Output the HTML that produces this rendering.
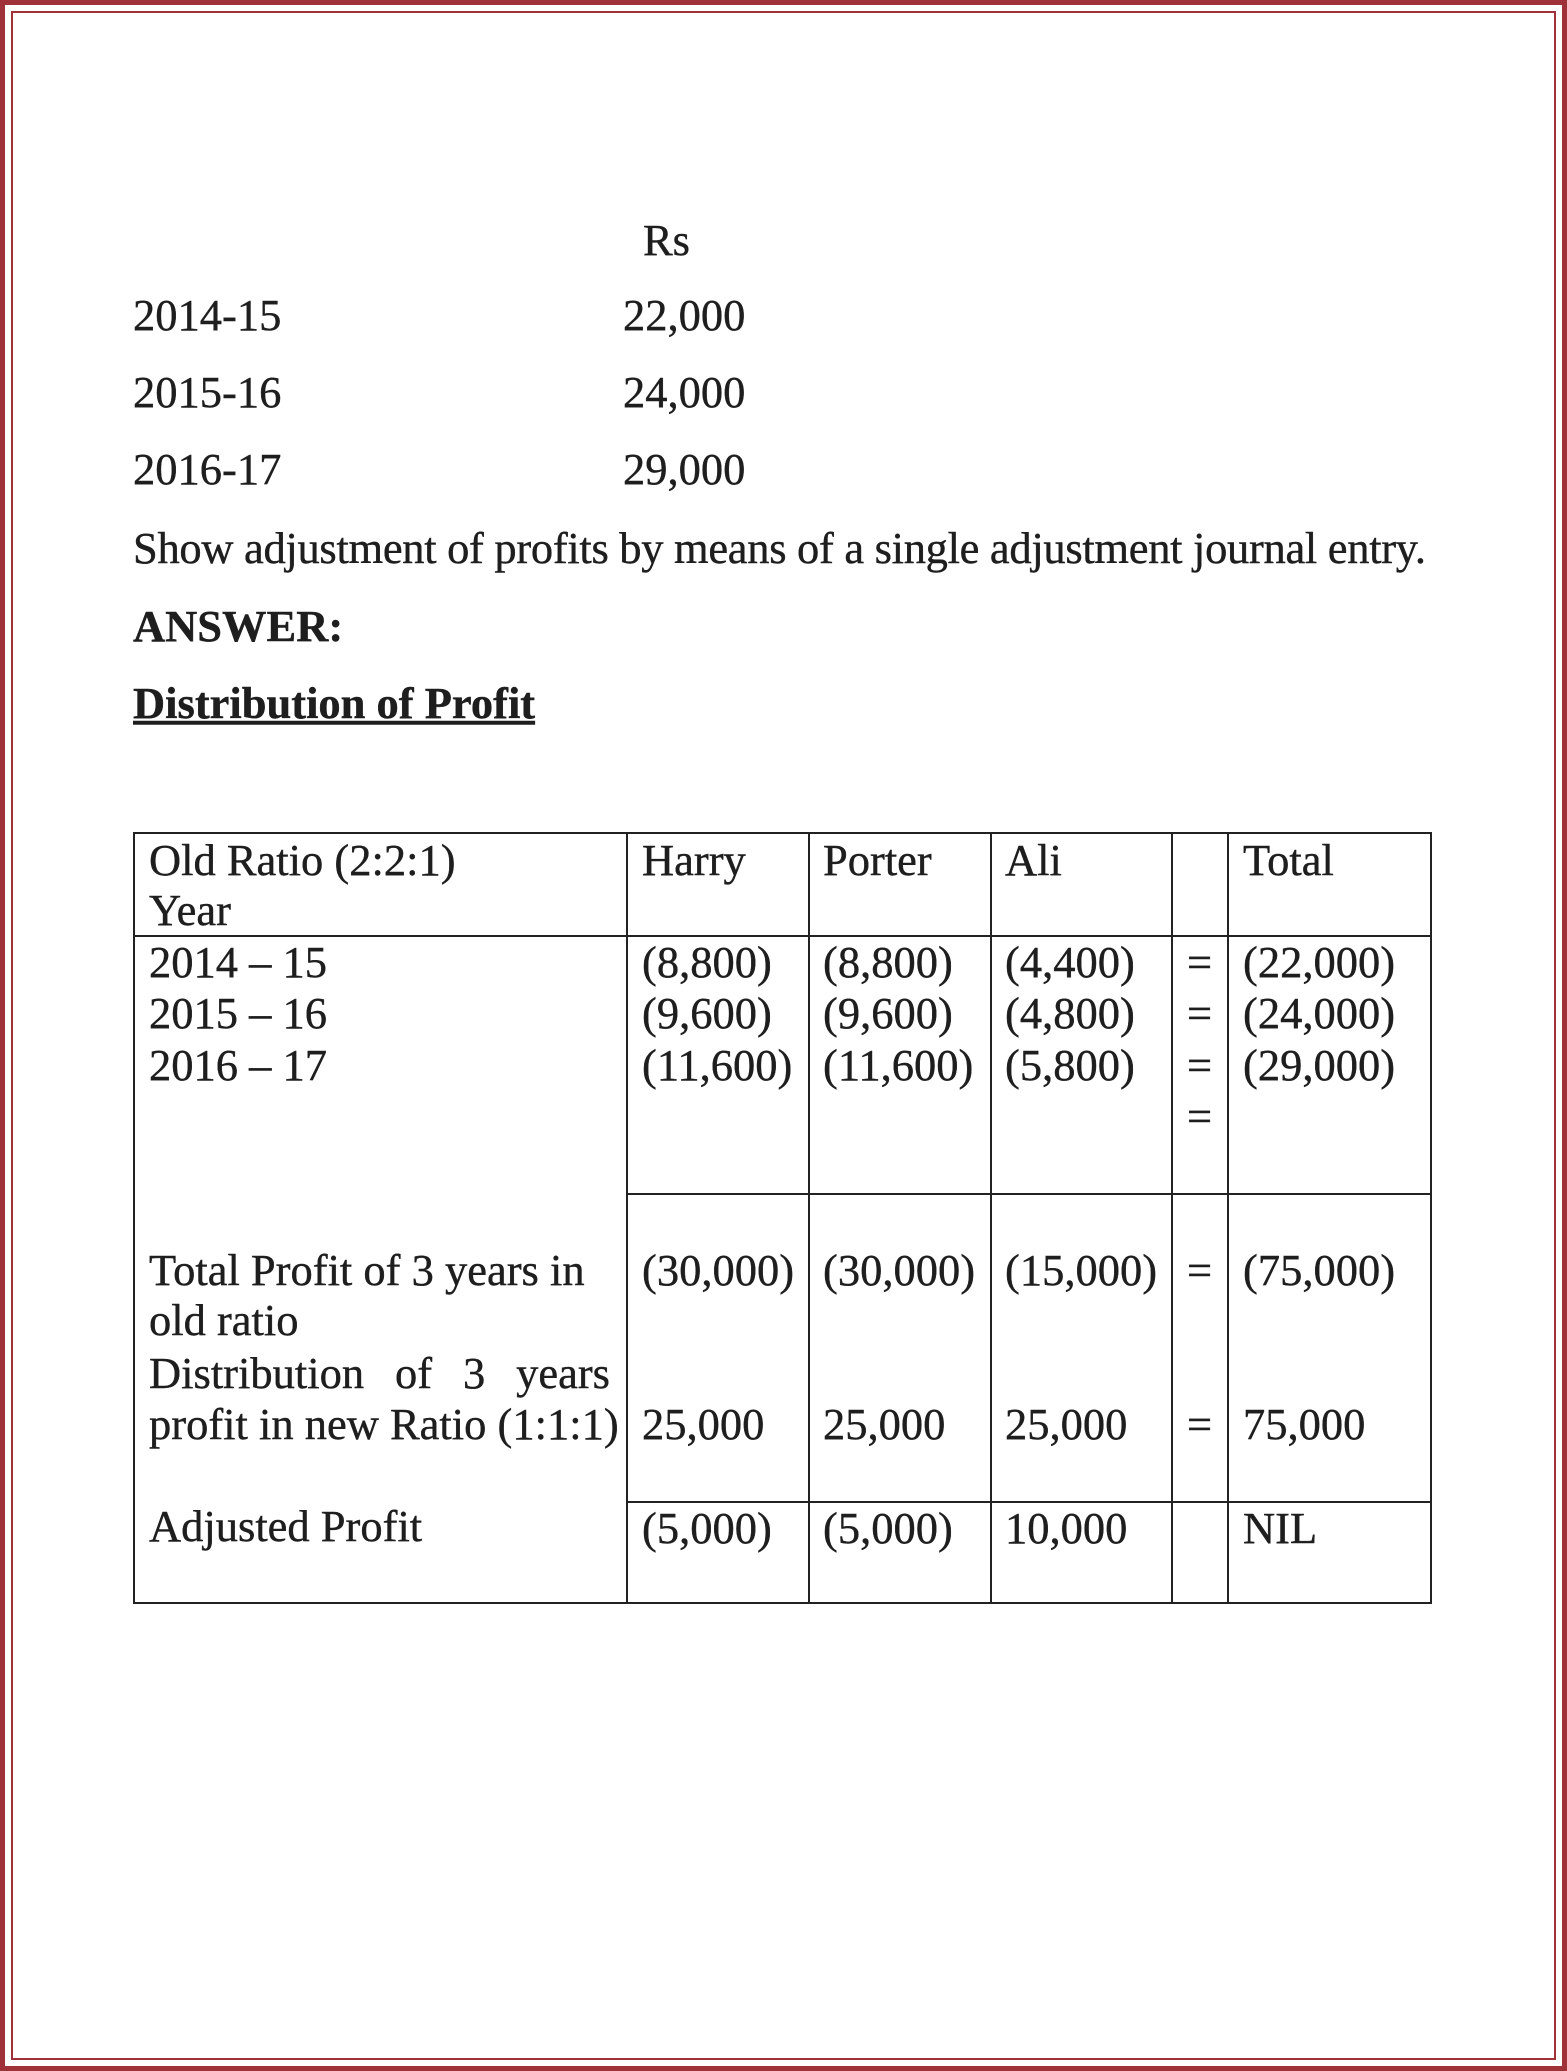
<!DOCTYPE html>
<html><head><meta charset="utf-8"><style>
html,body{margin:0;padding:0}
body{width:1567px;height:2071px;position:relative;background:#fff;font-family:"Liberation Serif",serif;color:#1e1e1e;font-size:44.5px;overflow:hidden;-webkit-text-stroke:0.4px #1e1e1e}
.f1{position:absolute;left:0;top:0;width:1557px;height:2061px;border:5px solid #9e3238}
.f2{position:absolute;left:11px;top:11px;width:1541px;height:2045px;border:2px solid #9e3238}
.t{position:absolute;white-space:nowrap;line-height:1;transform:translateY(-50%)}
.l{position:absolute;background:#222}
</style></head><body>
<div class="f1"></div><div class="f2"></div>
<div class="t" style="left:643px;top:240px">Rs</div>
<div class="t" style="left:133px;top:315px">2014-15</div><div class="t" style="left:623px;top:315px">22,000</div>
<div class="t" style="left:133px;top:392px">2015-16</div><div class="t" style="left:623px;top:392px">24,000</div>
<div class="t" style="left:133px;top:469px">2016-17</div><div class="t" style="left:623px;top:469px">29,000</div>
<div class="t" style="left:133px;top:548px;letter-spacing:-0.3px">Show adjustment of profits by means of a single adjustment journal entry.</div>
<div class="t" style="left:133px;top:626px;font-weight:bold">ANSWER:</div>
<div class="t" style="left:133px;top:703px;font-weight:bold;text-decoration:underline">Distribution of Profit</div>

<div class="l" style="left:133px;top:832px;width:1299px;height:2px"></div>
<div class="l" style="left:133px;top:1602px;width:1299px;height:2px"></div>
<div class="l" style="left:133px;top:832px;width:2px;height:772px"></div>
<div class="l" style="left:1430px;top:832px;width:2px;height:772px"></div>
<div class="l" style="left:133px;top:935px;width:1299px;height:2px"></div>
<div class="l" style="left:626px;top:1193px;width:806px;height:2px"></div>
<div class="l" style="left:626px;top:1501px;width:806px;height:2px"></div>
<div class="l" style="left:626px;top:832px;width:2px;height:772px"></div>
<div class="l" style="left:808px;top:832px;width:2px;height:772px"></div>
<div class="l" style="left:990px;top:832px;width:2px;height:772px"></div>
<div class="l" style="left:1171px;top:832px;width:2px;height:772px"></div>
<div class="l" style="left:1227px;top:832px;width:2px;height:772px"></div>

<div class="t" style="left:149px;top:860px">Old Ratio (2:2:1)</div>
<div class="t" style="left:149px;top:910px">Year</div>
<div class="t" style="left:642px;top:860px">Harry</div>
<div class="t" style="left:823px;top:860px">Porter</div>
<div class="t" style="left:1005px;top:860px">Ali</div>
<div class="t" style="left:1243px;top:860px">Total</div>

<div class="t" style="left:149px;top:962px">2014 – 15</div>
<div class="t" style="left:149px;top:1013px">2015 – 16</div>
<div class="t" style="left:149px;top:1065px">2016 – 17</div>
<div class="t" style="left:642px;top:962px">(8,800)</div><div class="t" style="left:823px;top:962px">(8,800)</div><div class="t" style="left:1005px;top:962px">(4,400)</div><div class="t" style="left:1187px;top:962px">=</div><div class="t" style="left:1243px;top:962px">(22,000)</div>
<div class="t" style="left:642px;top:1013px">(9,600)</div><div class="t" style="left:823px;top:1013px">(9,600)</div><div class="t" style="left:1005px;top:1013px">(4,800)</div><div class="t" style="left:1187px;top:1013px">=</div><div class="t" style="left:1243px;top:1013px">(24,000)</div>
<div class="t" style="left:642px;top:1065px">(11,600)</div><div class="t" style="left:823px;top:1065px">(11,600)</div><div class="t" style="left:1005px;top:1065px">(5,800)</div><div class="t" style="left:1187px;top:1065px">=</div><div class="t" style="left:1243px;top:1065px">(29,000)</div>
<div class="t" style="left:1187px;top:1116px">=</div>

<div class="t" style="left:149px;top:1270px">Total Profit of 3 years in</div>
<div class="t" style="left:149px;top:1320px">old ratio</div>
<div class="t" style="left:149px;top:1373px;width:461px;white-space:normal;text-align:justify;text-align-last:justify">Distribution of 3 years</div>
<div class="t" style="left:149px;top:1424px">profit in new Ratio (1:1:1)</div>
<div class="t" style="left:642px;top:1270px">(30,000)</div><div class="t" style="left:823px;top:1270px">(30,000)</div><div class="t" style="left:1005px;top:1270px">(15,000)</div><div class="t" style="left:1187px;top:1270px">=</div><div class="t" style="left:1243px;top:1270px">(75,000)</div>
<div class="t" style="left:642px;top:1424px">25,000</div><div class="t" style="left:823px;top:1424px">25,000</div><div class="t" style="left:1005px;top:1424px">25,000</div><div class="t" style="left:1187px;top:1424px">=</div><div class="t" style="left:1243px;top:1424px">75,000</div>

<div class="t" style="left:149px;top:1526px">Adjusted Profit</div>
<div class="t" style="left:642px;top:1528px">(5,000)</div><div class="t" style="left:823px;top:1528px">(5,000)</div><div class="t" style="left:1005px;top:1528px">10,000</div><div class="t" style="left:1243px;top:1528px">NIL</div>
</body></html>
